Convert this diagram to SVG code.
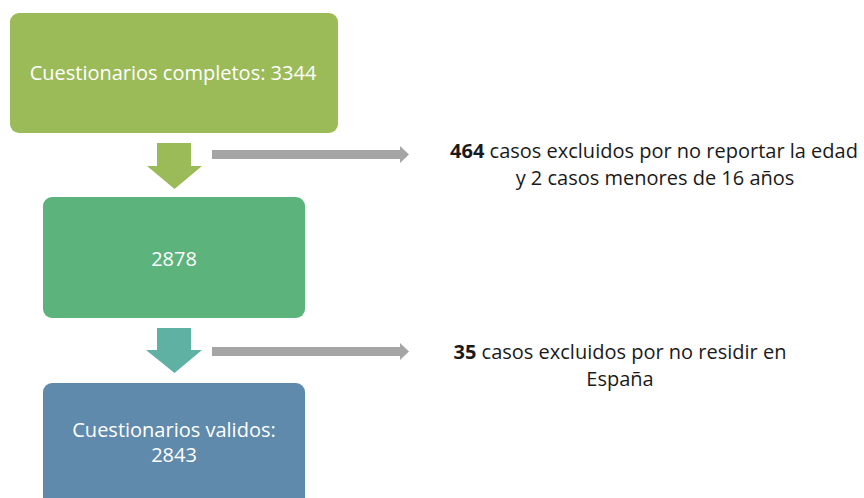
<svg xmlns="http://www.w3.org/2000/svg" width="864" height="498" viewBox="0 0 864 498">
<style>
.box text{font-family:"Open Sans","Liberation Sans",sans-serif;font-size:20px;fill:#ffffff;text-anchor:middle}
.note text{font-family:"Open Sans","Liberation Sans",sans-serif;font-size:20px;fill:#1a1a1a;text-anchor:middle}
.b{font-weight:bold}
</style>
<rect width="864" height="498" fill="#ffffff"/>
<g id="node-completos" class="box">
<rect x="10" y="13" width="328" height="120" rx="9" fill="#9bbb59"/>
<text x="173" y="80">Cuestionarios completos: 3344</text>
</g>
<g id="node-2878" class="box">
<rect x="43" y="197" width="262" height="121" rx="9" fill="#5cb37c"/>
<text x="174" y="266">2878</text>
</g>
<g id="node-validos" class="box">
<rect x="43" y="383" width="262" height="125" rx="9" fill="#5f8aab"/>
<text x="174" y="437">Cuestionarios validos:</text>
<text x="174" y="462">2843</text>
</g>
<g id="note-464" class="note">
<text x="654" y="158"><tspan class="b">464</tspan> casos excluidos por no reportar la edad</text>
<text x="655" y="185">y 2 casos menores de 16 años</text>
</g>
<g id="note-35" class="note">
<text x="620" y="359"><tspan class="b">35</tspan> casos excluidos por no residir en</text>
<text x="620" y="386">España</text>
</g>
<g id="connectors">
<polygon points="157,143 191,143 191,166 202,166 174.5,189 147,166 157,166" fill="#9bbb59"/>
<polygon points="157,328 191,328 191,350 202,350 174.5,373 146,350 157,350" fill="#5eb1a3"/>
<polygon points="212,150 400,150 400,146 409,154.5 400,163 400,159 212,159" fill="#a5a5a5"/>
<polygon points="212,347 400,347 400,343 409,351.5 400,360 400,356 212,356" fill="#a5a5a5"/>
</g>
</svg>
